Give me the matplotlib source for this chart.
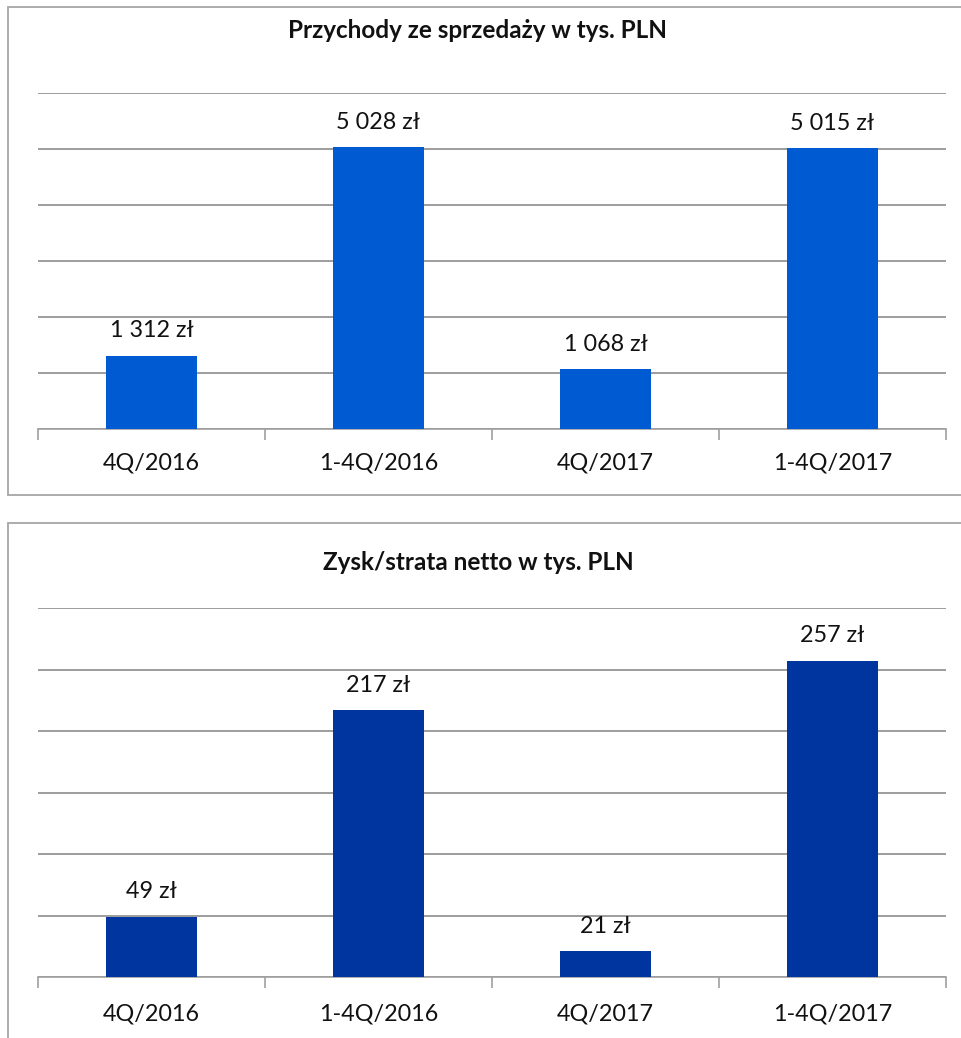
import matplotlib.pyplot as plt
from matplotlib.patches import Rectangle

# dane
kategorie = ['4Q/2016', '1-4Q/2016', '4Q/2017', '1-4Q/2017']
przychody = [1312, 5028, 1068, 5015]
zysk = [49, 217, 21, 257]

W, H = 961, 1038
fig = plt.figure(figsize=(W / 100, H / 100), dpi=100)
plt.rcParams['font.family'] = ['Lato', 'DejaVu Sans']


def px_axes(left, top, right, bottom):
    return fig.add_axes([left / W, 1 - bottom / H, (right - left) / W, (bottom - top) / H])


def frame(left, top, right, bottom):
    fig.patches.append(Rectangle((left / W, 1 - bottom / H), (right - left) / W, (bottom - top) / H,
                                 transform=fig.transFigure, fill=False, edgecolor='#a6a6a6',
                                 linewidth=1.3, zorder=0))


def panel(ax, values, color, ymax, step, title, title_y):
    x = range(len(values))
    ax.bar(x, values, width=0.4, color=color, zorder=3)
    ax.set_xlim(-0.5, len(values) - 0.5)
    ax.set_ylim(0, ymax)
    ax.set_yticks(range(0, ymax + 1, step))
    ax.yaxis.grid(True, color='#8c8c8c', linewidth=1.2, zorder=0)
    ax.set_axisbelow(True)
    ax.tick_params(axis='y', left=False, labelleft=False)
    for s in ['top', 'right', 'left']:
        ax.spines[s].set_visible(False)
    ax.spines['bottom'].set_color('#a0a0a0')
    ax.spines['bottom'].set_linewidth(1.2)
    # ticki na granicach kategorii
    ax.set_xticks([i - 0.5 for i in range(len(values) + 1)], minor=False)
    ax.set_xticklabels([])
    ax.tick_params(axis='x', length=8, color='#a0a0a0', width=1.2, direction='out')
    for i, k in enumerate(kategorie):
        ax.text(i, -0.1, k, transform=ax.get_xaxis_transform(), ha='center', va='center',
                fontsize=16.8, color='#111111')
    for i, v in enumerate(values):
        lab = f'{v:,}'.replace(',', ' ') + ' zł'
        ax.annotate(lab, (i, v), xytext=(0, 18), textcoords='offset points', ha='center',
                    va='center', fontsize=16.8, color='#111111')
    fig.text(478 / W, 1 - title_y / H, title, ha='center', va='center', fontsize=17.5,
             fontweight='bold', color='#111111')


frame(8, 7, 962, 495)
frame(8, 523, 962, 1050)

ax1 = px_axes(38, 93, 946, 429)
panel(ax1, przychody, '#005ad2', 6000, 1000, 'Przychody ze sprzedaży w tys. PLN', 31)

ax2 = px_axes(38, 608, 946, 977)
panel(ax2, zysk, '#00349e', 300, 50, 'Zysk/strata netto w tys. PLN', 562)

fig.savefig('out.png', dpi=100)
